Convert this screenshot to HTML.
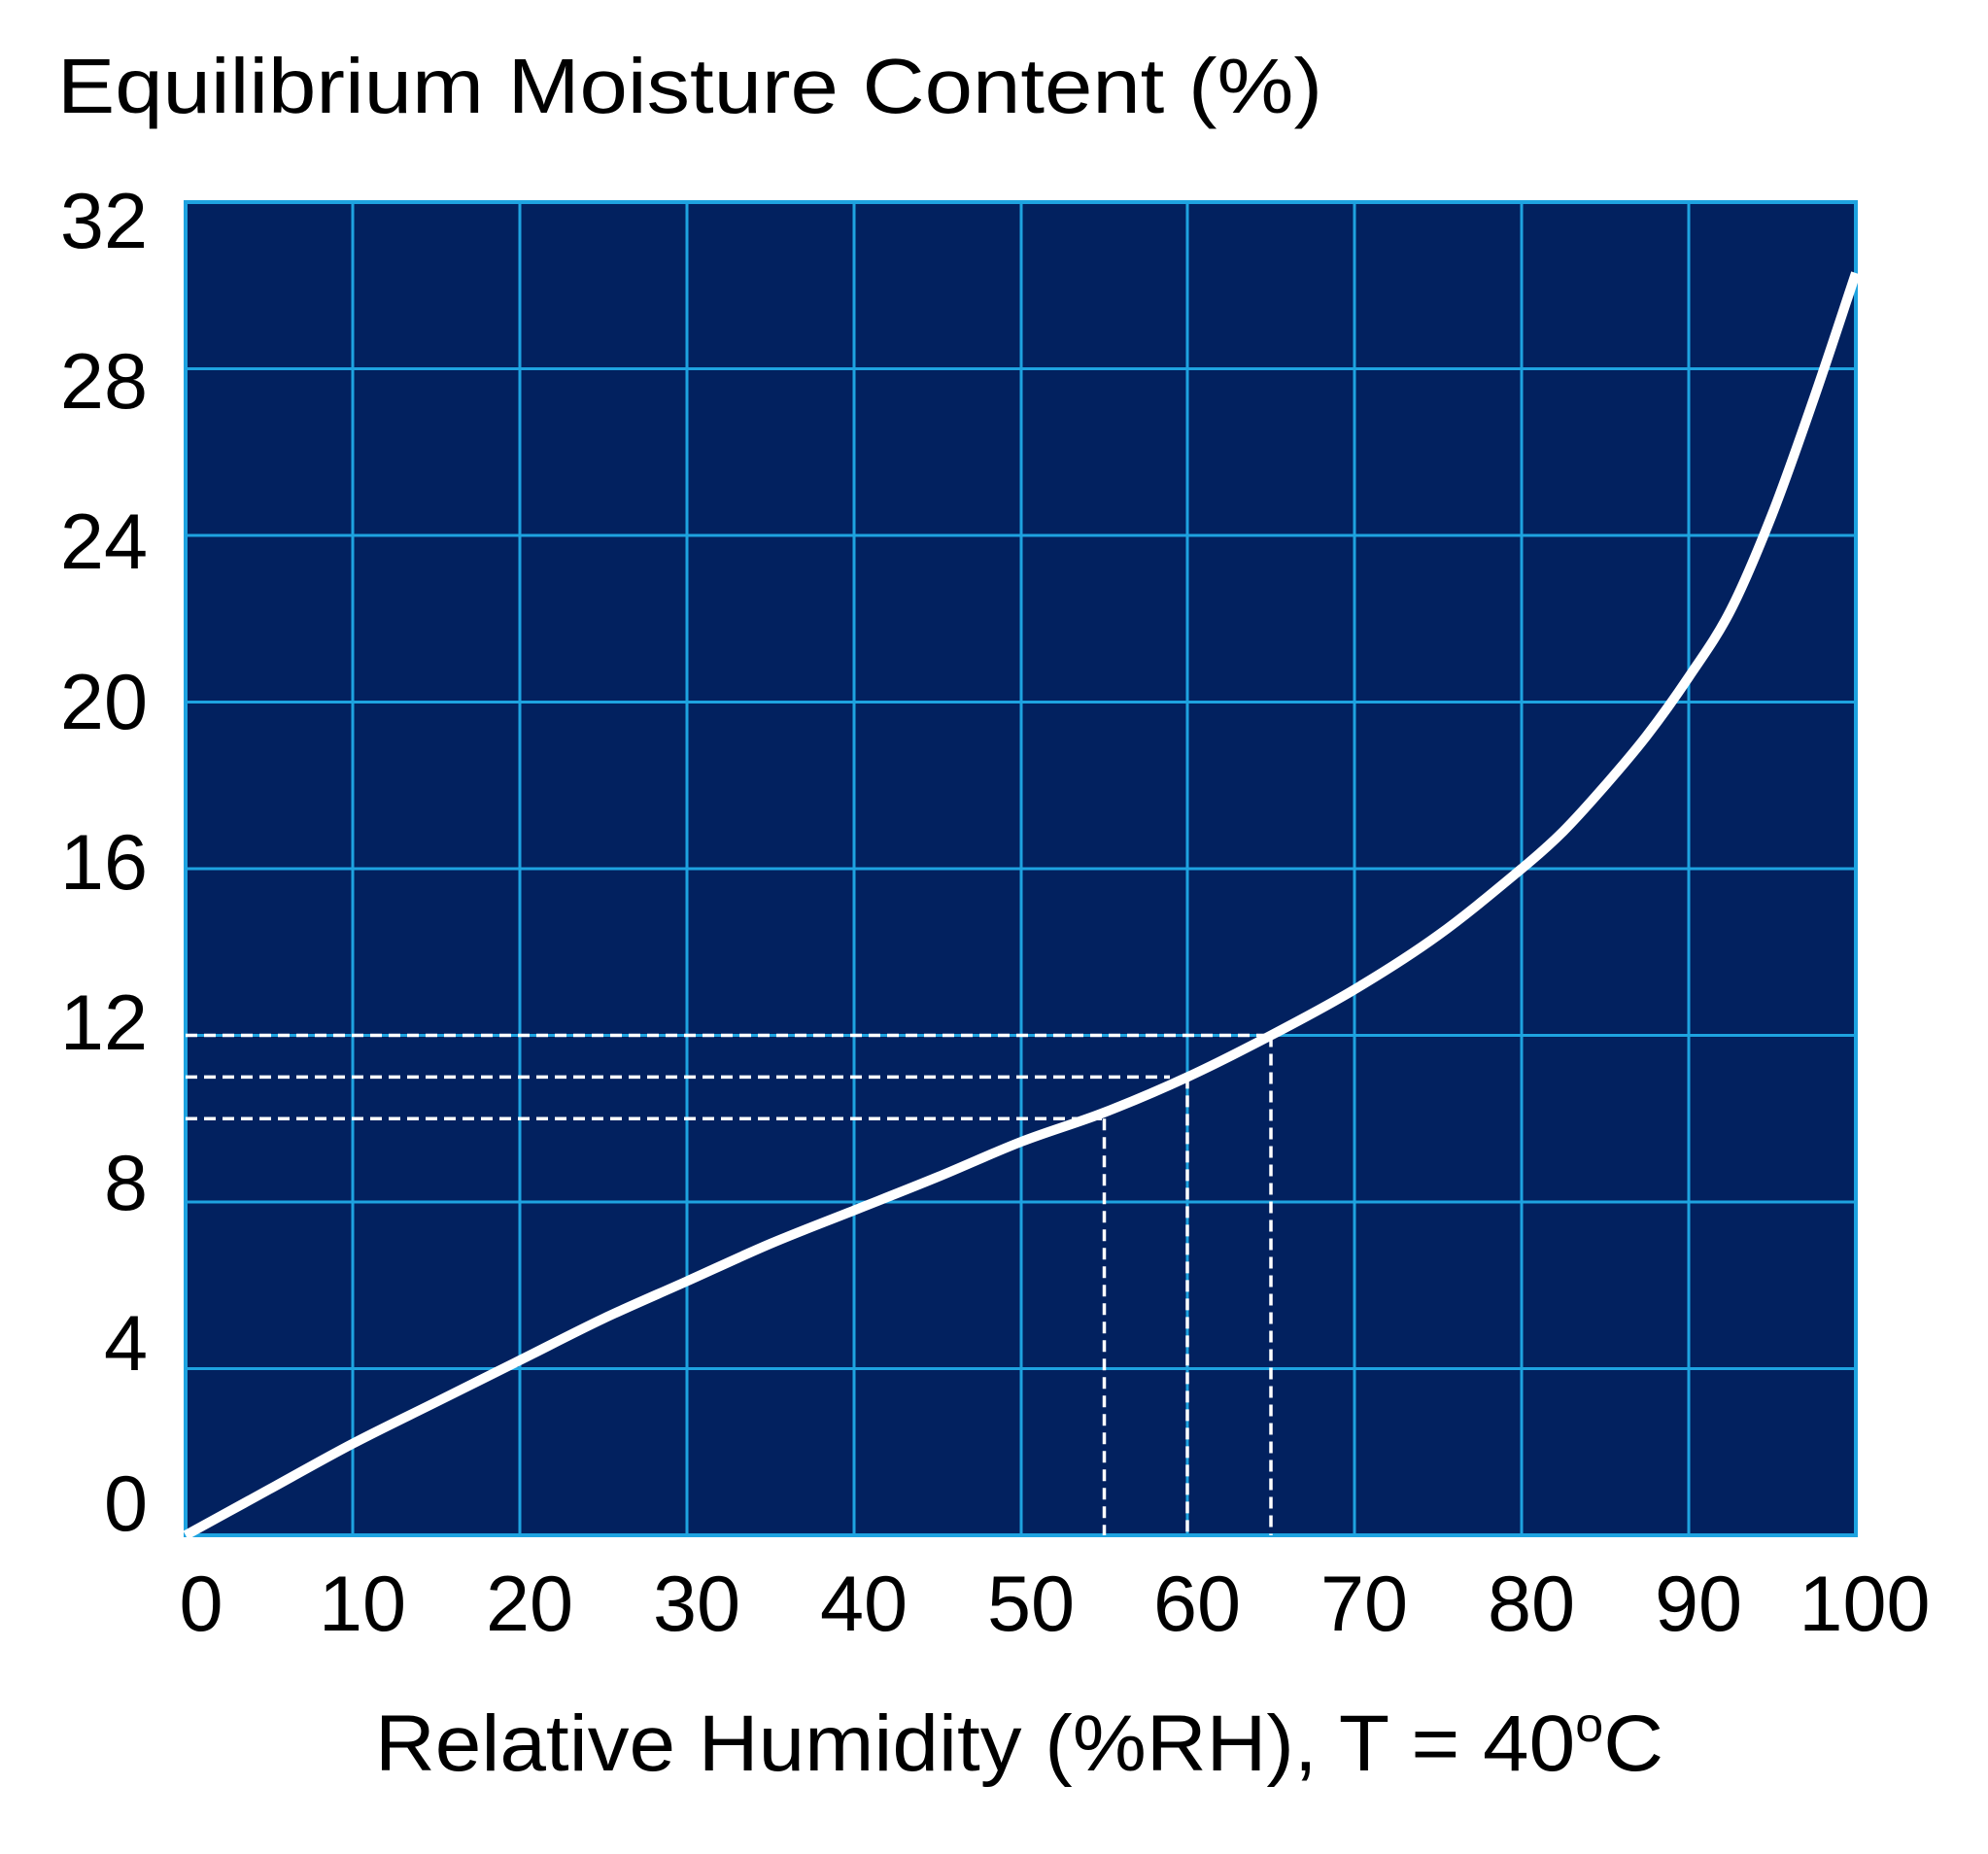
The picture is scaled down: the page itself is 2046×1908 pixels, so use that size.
<!DOCTYPE html>
<html><head><meta charset="utf-8"><style>html,body{margin:0;padding:0;background:#fff}</style></head>
<body>
<svg width="2046" height="1903" viewBox="0 0 2046 1903" xmlns="http://www.w3.org/2000/svg" font-family="Liberation Sans, sans-serif">
<rect x="0" y="0" width="2046" height="1903" fill="#fff"/>
<text x="59" y="116" font-size="80" fill="#000" textLength="1302" lengthAdjust="spacingAndGlyphs">Equilibrium Moisture Content (%)</text>
<rect x="191" y="208" width="1719" height="1372" fill="#02215f"/>
<g stroke="#1ea3e0" stroke-width="3">
<line x1="363" y1="208" x2="363" y2="1580"/><line x1="535" y1="208" x2="535" y2="1580"/>
<line x1="707" y1="208" x2="707" y2="1580"/><line x1="879" y1="208" x2="879" y2="1580"/>
<line x1="1051" y1="208" x2="1051" y2="1580"/><line x1="1222" y1="208" x2="1222" y2="1580"/>
<line x1="1394" y1="208" x2="1394" y2="1580"/><line x1="1566" y1="208" x2="1566" y2="1580"/>
<line x1="1738" y1="208" x2="1738" y2="1580"/>
<line x1="191" y1="379.5" x2="1910" y2="379.5"/><line x1="191" y1="551" x2="1910" y2="551"/>
<line x1="191" y1="722.5" x2="1910" y2="722.5"/><line x1="191" y1="894" x2="1910" y2="894"/>
<line x1="191" y1="1065.5" x2="1910" y2="1065.5"/><line x1="191" y1="1237" x2="1910" y2="1237"/>
<line x1="191" y1="1408.5" x2="1910" y2="1408.5"/>
</g>
<rect x="191" y="208" width="1719" height="1372" fill="none" stroke="#1ea3e0" stroke-width="4"/>
<g stroke="#fff" stroke-width="3.5" stroke-dasharray="12,7" fill="none">
<line x1="191" y1="1065.5" x2="1308" y2="1065.5"/>
<line x1="191" y1="1108.4" x2="1204" y2="1108.4"/>
<line x1="191" y1="1151.3" x2="1136" y2="1151.3"/>
<line x1="1136.5" y1="1151.3" x2="1136.5" y2="1580"/>
<line x1="1222" y1="1108.4" x2="1222" y2="1580"/>
<line x1="1308" y1="1065.5" x2="1308" y2="1580"/>
</g>
<path fill="none" stroke="#fff" stroke-width="10" stroke-linejoin="round"
d="M191,1580 C219.7,1564.3 248.3,1548.5 277,1532.8
S334.3,1500.7 363,1485.7
S420.3,1457.1 449,1442.8
S506.3,1414.2 535,1399.9
S592.3,1370.6 621,1357
S678.3,1331.4 707,1318.5
S764.3,1292.1 793,1279.9
S850.3,1257 879,1245.6
S936.3,1223.1 965,1211.3
S1022.4,1186.1 1051,1175
S1108,1155.9 1136.5,1144.8
S1193.4,1121.6 1222,1108.4
S1279.3,1080.5 1308,1065.5
S1365.3,1035.5 1394,1018.3
C1422.67,1001.2 1451.33,983.3 1480,962.6
C1508.67,941.9 1537.33,917.8 1566,894
C1580.33,882.1 1594.67,869.7 1609,855.4
C1623.33,841.1 1637.67,824.7 1652,808.3
C1666.33,791.9 1680.67,775.4 1695,756.8
C1709.33,738.2 1723.67,718.2 1738,696.8
C1752.33,675.4 1766.67,656.2 1781,628.2
C1795.33,600.2 1809.67,565.4 1824,529
C1838.33,492.6 1852.67,450.8 1867,409.5
C1881.33,368.2 1895.67,324 1910,281"/>
<g font-size="81" fill="#000" text-anchor="end">
<text x="152" y="255">32</text><text x="152" y="420">28</text><text x="152" y="585">24</text>
<text x="152" y="750">20</text><text x="152" y="915">16</text><text x="152" y="1080">12</text>
<text x="152" y="1245">8</text><text x="152" y="1410">4</text><text x="152" y="1575">0</text>
</g>
<g font-size="81" fill="#000" text-anchor="middle">
<text x="207" y="1678">0</text><text x="373" y="1678">10</text><text x="545" y="1678">20</text>
<text x="717" y="1678">30</text><text x="889" y="1678">40</text><text x="1061" y="1678">50</text>
<text x="1232" y="1678">60</text><text x="1404" y="1678">70</text><text x="1576" y="1678">80</text>
<text x="1748" y="1678">90</text><text x="1919" y="1678">100</text>
</g>
<text x="386" y="1822" font-size="82" fill="#000" textLength="1326" lengthAdjust="spacingAndGlyphs">Relative Humidity (%RH), T = 40<tspan font-size="50" dy="-30">o</tspan><tspan dy="30">C</tspan></text>
</svg>
</body></html>
